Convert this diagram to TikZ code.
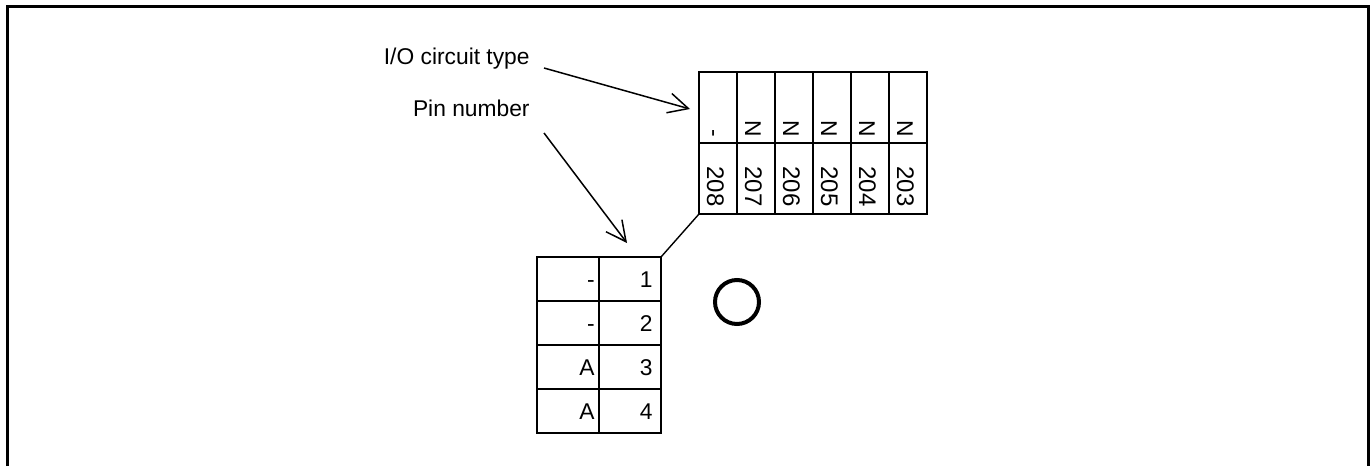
\documentclass[tikz,border=0pt]{standalone}
\usepackage{fontspec}
\setmainfont{Liberation Sans}
\usetikzlibrary{arrows.meta}

\begin{document}
\begin{tikzpicture}[%
        x=0.5pt, y=-0.5pt,
        font=\fontsize{11.4}{13}\selectfont,
        grid/.style={line width=1pt},
        pointer/.style={-{Straight Barb[length=10pt,width=10pt]}, line width=0.75pt},
        toptext/.style={rotate=-90, anchor=base east, inner sep=0pt},
        pintext/.style={anchor=base east, inner sep=0pt}
      ]
      \useasboundingbox (0,0) rectangle (1370,466);
      % frame
      \draw[line width=1.5pt] (7,466) -- (7,6) -- (1368,6) -- (1368,466);

      % labels
      \node[pintext] (io) at (530,64) {I/O circuit type};
      \node[pintext] (pinlabel) at (530,116) {Pin number};

      % top row of pins
      \draw[grid] (699,72) rectangle (927,214);
      \draw[grid] (699,143) -- (927,143);
      \foreach \i in {1,...,5} \draw[grid] (699+38*\i,72) -- (699+38*\i,214);
      \foreach \t/\n [count=\i from 0] in {-/208,N/207,N/206,N/205,N/204,N/203} {
        \node[toptext] (type\n) at (707+38*\i,137) {\t};
        \node[toptext,font=\fontsize{12}{14}\selectfont] (pin\n) at (707+38*\i,207) {\n};
      }

      % left column of pins
      \draw[grid] (537,257) rectangle (661,433);
      \draw[grid] (599,257) -- (599,433);
      \foreach \r in {1,2,3} \draw[grid] (537,257+44*\r) -- (661,257+44*\r);
      \foreach \t/\n [count=\i from 0] in {-/1,-/2,A/3,A/4} {
        \node[pintext] (type\n) at (595,287+44*\i) {\t};
        \node[pintext] (pin\n) at (653,287+44*\i) {\n};
      }

      \node[circle, draw, line width=2pt, minimum size=22pt, inner sep=0pt] (mark) at (737,302) {};

      \coordinate (lowcorner) at (661,257);
      \coordinate (topcorner) at (699,214);
      \coordinate (iostart) at (544,68);
      \coordinate (iotip) at (690,109);
      \coordinate (pinstart) at (544,133);
      \coordinate (pintip) at (627,243);

      \draw[line width=0.7pt] (lowcorner) -- (topcorner);
      \draw[pointer] (iostart) -- (iotip);
      \draw[pointer] (pinstart) -- (pintip);
\end{tikzpicture}
\end{document}
